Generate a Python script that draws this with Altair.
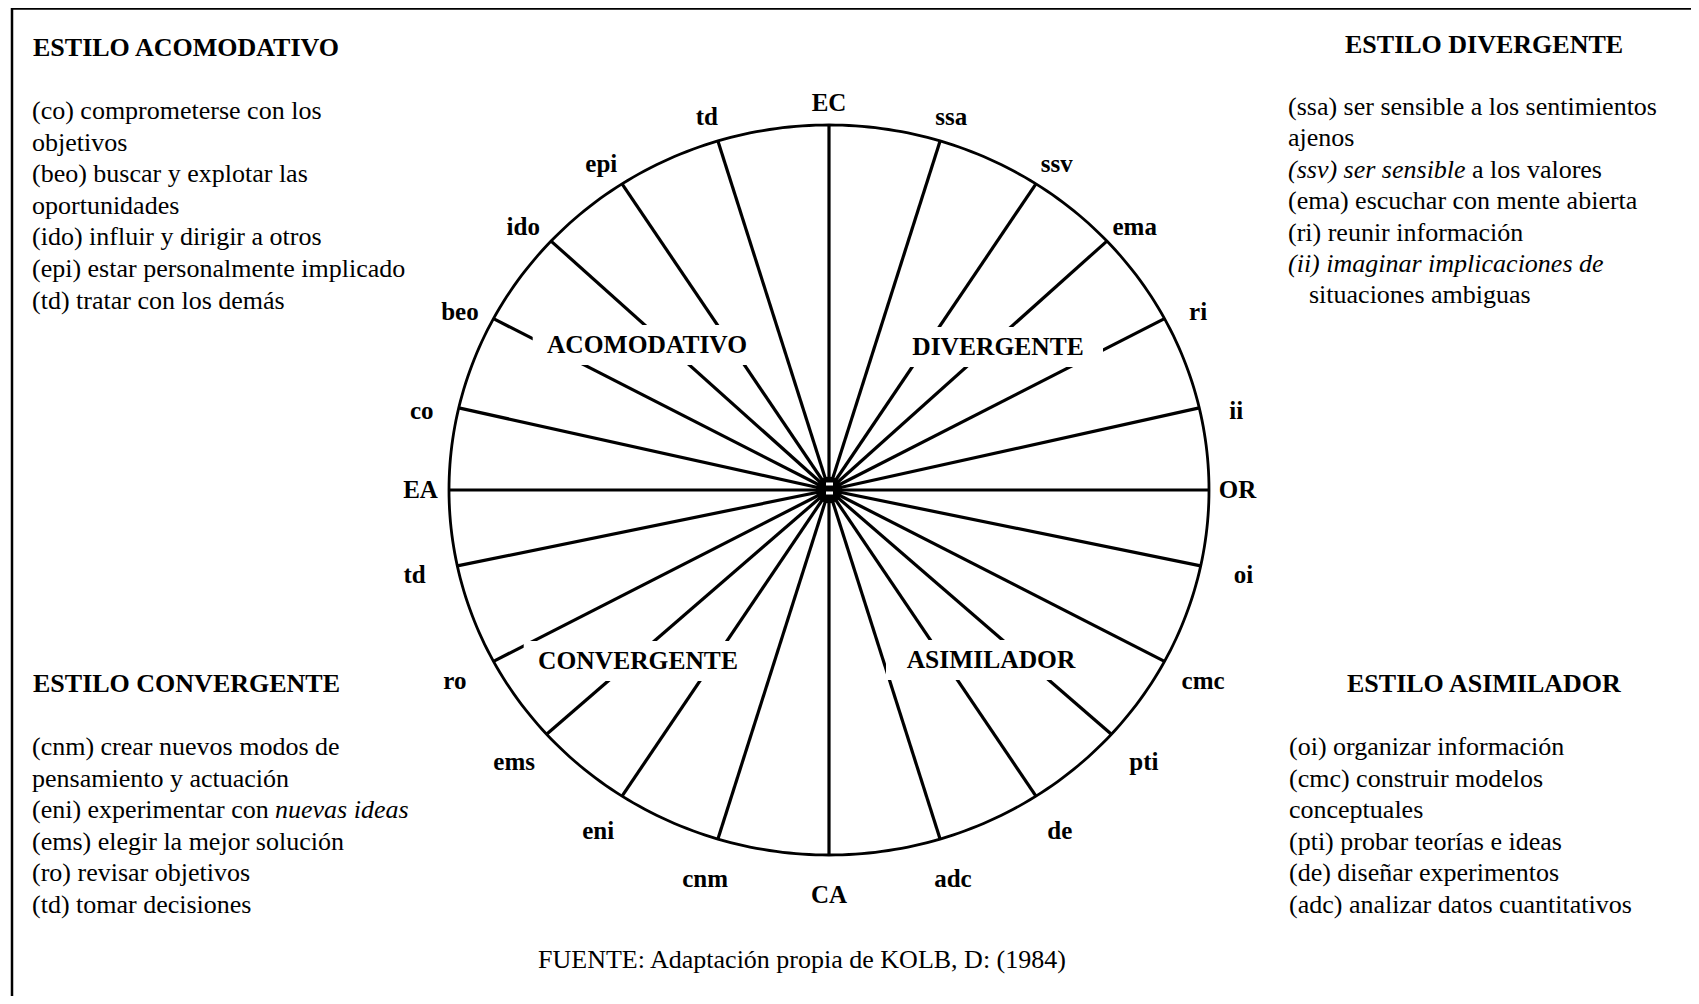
import math
import altair as alt
import pandas as pd

# ---------------- data ----------------
spoke_labels = ["EC", "ssa", "ssv", "ema", "ri", "ii", "OR", "oi", "cmc", "pti", "de", "adc",
                "CA", "cnm", "eni", "ems", "ro", "td", "EA", "co", "beo", "ido", "epi", "td"]
spoke_angles = [0, 17, 33, 47, 62, 77, 90, 102, 118, 132, 147, 163,
                180, 197, 213, 228, 242, 258, 270, 283, 298, 313, 327, 343]
cardinal_labels = ["EC", "OR", "CA", "EA"]

quadrant_names = ["ACOMODATIVO", "DIVERGENTE", "CONVERGENTE", "ASIMILADOR"]

acomodativo_title = "ESTILO ACOMODATIVO"
acomodativo_lines = ["(co) comprometerse con los", "objetivos", "(beo) buscar y explotar las",
                     "oportunidades", "(ido) influir y dirigir a otros",
                     "(epi) estar personalmente implicado", "(td) tratar con los demás"]
divergente_title = "ESTILO DIVERGENTE"
divergente_lines = ["(ssa) ser sensible a los sentimientos", "ajenos",
                    "(ssv) ser sensible a los valores", "(ema) escuchar con mente abierta",
                    "(ri) reunir información", "(ii) imaginar implicaciones de",
                    "situaciones ambiguas"]
convergente_title = "ESTILO CONVERGENTE"
convergente_lines = ["(cnm) crear nuevos modos de", "pensamiento y actuación",
                     "(eni) experimentar con nuevas ideas", "(ems) elegir la mejor solución",
                     "(ro) revisar objetivos", "(td) tomar decisiones"]
asimilador_title = "ESTILO ASIMILADOR"
asimilador_lines = ["(oi) organizar información", "(cmc) construir modelos", "conceptuales",
                    "(pti) probar teorías e ideas", "(de) diseñar experimentos",
                    "(adc) analizar datos cuantitativos"]
source_note = "FUENTE: Adaptación propia de KOLB, D: (1984)"

# ---------------- layout ----------------
FONT = "Liberation Serif"
CX, CY, RX, RY = 829, 490, 380, 365      # circle centre / radii (page px)
OX, OY = 8, 8                              # page margin
W, H = 1683, 988


def ux(px):
    return (px - CX) / RX


def uy(py):
    return (CY - py) / RY


xs = alt.Scale(domain=[ux(OX), ux(OX + W)], nice=False, zero=False)
ys = alt.Scale(domain=[uy(OY + H), uy(OY)], nice=False, zero=False)
X = lambda f: alt.X(f, type="quantitative", scale=xs, axis=None)
Y = lambda f: alt.Y(f, type="quantitative", scale=ys, axis=None)
X2 = lambda f: alt.X2(f)
Y2 = lambda f: alt.Y2(f)

# circle
circ = pd.DataFrame([{"o": t, "x": math.sin(math.radians(t)), "y": math.cos(math.radians(t))}
                     for t in range(0, 361)])
circle = alt.Chart(circ).mark_line(color="black", strokeWidth=2.8).encode(
    x=X("x"), y=Y("y"), order="o:Q")

# spokes
sp = pd.DataFrame({"label": spoke_labels, "angle": spoke_angles})
sp["x0"] = 0.0
sp["y0"] = 0.0
sp["x1"] = [math.sin(math.radians(a)) for a in spoke_angles]
sp["y1"] = [math.cos(math.radians(a)) for a in spoke_angles]
spokes = alt.Chart(sp).mark_rule(color="black", strokeWidth=3.2).encode(
    x=X("x0"), y=Y("y0"), x2=X2("x1"), y2=Y2("y1"))


# spoke labels: placed just outside the rim along each spoke
def label_pos(lab, ang):
    a = math.radians(ang)
    if lab == "EC":
        return 0.0, 1.06
    if lab == "CA":
        return 0.0, -1.11
    if lab in cardinal_labels:
        return 1.075 * math.sin(a), 0.0
    if ang < 90 or ang > 270:
        return 1.1 * math.sin(a), 1.1 * math.cos(a) - 0.03
    return 1.115 * math.sin(a), 1.115 * math.cos(a)


pos = [label_pos(l, a) for l, a in zip(spoke_labels, spoke_angles)]
sp["lx"] = [p[0] for p in pos]
sp["ly"] = [p[1] for p in pos]
spoke_text = alt.Chart(sp).mark_text(font=FONT, fontSize=25, fontWeight="bold",
                                     baseline="middle", align="center", color="black").encode(
    x=X("lx"), y=Y("ly"), text="label:N")

# quadrant labels with white gaps
QPOS = {"ACOMODATIVO": (647, 345), "DIVERGENTE": (998, 347),
        "CONVERGENTE": (638, 661), "ASIMILADOR": (991, 660)}
q = pd.DataFrame({"name": quadrant_names})
q["x"] = [ux(QPOS[n][0]) for n in quadrant_names]
q["y"] = [uy(QPOS[n][1]) for n in quadrant_names]
halfw = [(len(n) * 18.6 / 2 + 12) / RX for n in quadrant_names]
q["bx1"] = q["x"] - halfw
q["bx2"] = q["x"] + halfw
q["by1"] = q["y"] - 20 / RY
q["by2"] = q["y"] + 20 / RY
gaps = alt.Chart(q).mark_rect(color="white").encode(
    x=X("bx1"), x2=X2("bx2"), y=Y("by1"), y2=Y2("by2"))
quad_text = alt.Chart(q).mark_text(font=FONT, fontSize=25.5, fontWeight="bold",
                                   baseline="middle", align="center", color="black").encode(
    x=X("x"), y=Y("y"), text="name:N")

# centre marker
cm = pd.DataFrame({"x": [0.0], "y": [0.0]})
centre = alt.Chart(cm).mark_point(shape="circle", filled=True, color="black", size=700,
                                  opacity=1, strokeWidth=0).encode(x=X("x"), y=Y("y"))
cw = pd.DataFrame({"x1": [ux(826), ux(826)], "x2": [ux(833), ux(833)],
                   "y1": [uy(482.5), uy(491.5)], "y2": [uy(485.5), uy(494.5)]})
centre_white = alt.Chart(cw).mark_rect(color="white").encode(
    x=X("x1"), x2=X2("x2"), y=Y("y1"), y2=Y2("y2"))

# ---------------- text blocks ----------------
ITALIC_WHOLE = {"(ii) imaginar implicaciones de"}
SPLITS = {
    "(ssv) ser sensible a los valores": [("(ssv) ser sensible", "italic", 0), ("a los valores", "normal", 184)],
    "(eni) experimentar con nuevas ideas": [("(eni) experimentar con", "normal", 0), ("nuevas ideas", "italic", 243)],
}
INDENT = {"situaciones ambiguas": 21}

rows = []


def add_block(title, tx, ty, lines, lx, ly0, lh):
    rows.append({"t": title, "x": ux(tx), "y": uy(ty), "s": "bold"})
    for i, line in enumerate(lines):
        py = ly0 + i * lh
        if line in SPLITS:
            for seg, style, off in SPLITS[line]:
                rows.append({"t": seg, "x": ux(lx + off), "y": uy(py), "s": style})
        else:
            style = "italic" if line in ITALIC_WHOLE else "normal"
            rows.append({"t": line, "x": ux(lx + INDENT.get(line, 0)), "y": uy(py), "s": style})


add_block(acomodativo_title, 33, 56, acomodativo_lines, 32, 119, 31.6)
add_block(divergente_title, 1345, 53, divergente_lines, 1288, 115, 31.4)
add_block(convergente_title, 33, 692, convergente_lines, 32, 755, 31.6)
add_block(asimilador_title, 1347, 692, asimilador_lines, 1289, 755, 31.6)
tb = pd.DataFrame(rows)

base_txt = alt.Chart(tb).encode(x=X("x"), y=Y("y"), text="t:N")
txt_bold = base_txt.transform_filter(alt.datum.s == "bold").mark_text(
    font=FONT, fontSize=26, fontWeight="bold", align="left", baseline="alphabetic", color="black")
txt_norm = base_txt.transform_filter(alt.datum.s == "normal").mark_text(
    font=FONT, fontSize=26, align="left", baseline="alphabetic", color="black")
txt_ital = base_txt.transform_filter(alt.datum.s == "italic").mark_text(
    font=FONT, fontSize=26, fontStyle="italic", align="left", baseline="alphabetic", color="black")

foot = pd.DataFrame({"t": [source_note], "x": [ux(802)], "y": [uy(968)]})
footer = alt.Chart(foot).mark_text(font=FONT, fontSize=26, align="center",
                                   baseline="alphabetic", color="black").encode(
    x=X("x"), y=Y("y"), text="t:N")

# page frame (scanned page border: top and left)
frame_top = alt.Chart(cm).mark_rule(color="black", strokeWidth=2.5).encode(
    x=alt.value(4), x2=alt.value(W), y=alt.value(0.5))
frame_left = alt.Chart(cm).mark_rule(color="black", strokeWidth=2.5).encode(
    x=alt.value(4), y=alt.value(0), y2=alt.value(H))

chart = alt.layer(
    circle, spokes, gaps, centre, centre_white, spoke_text, quad_text,
    txt_bold, txt_norm, txt_ital, footer, frame_top, frame_left
).properties(
    width=W, height=H, padding=0,
    autosize=alt.AutoSizeParams(type="none"),
    background="white",
).configure_view(strokeWidth=0)

chart.save("out.html", embed_options={"renderer": "svg", "actions": False})
